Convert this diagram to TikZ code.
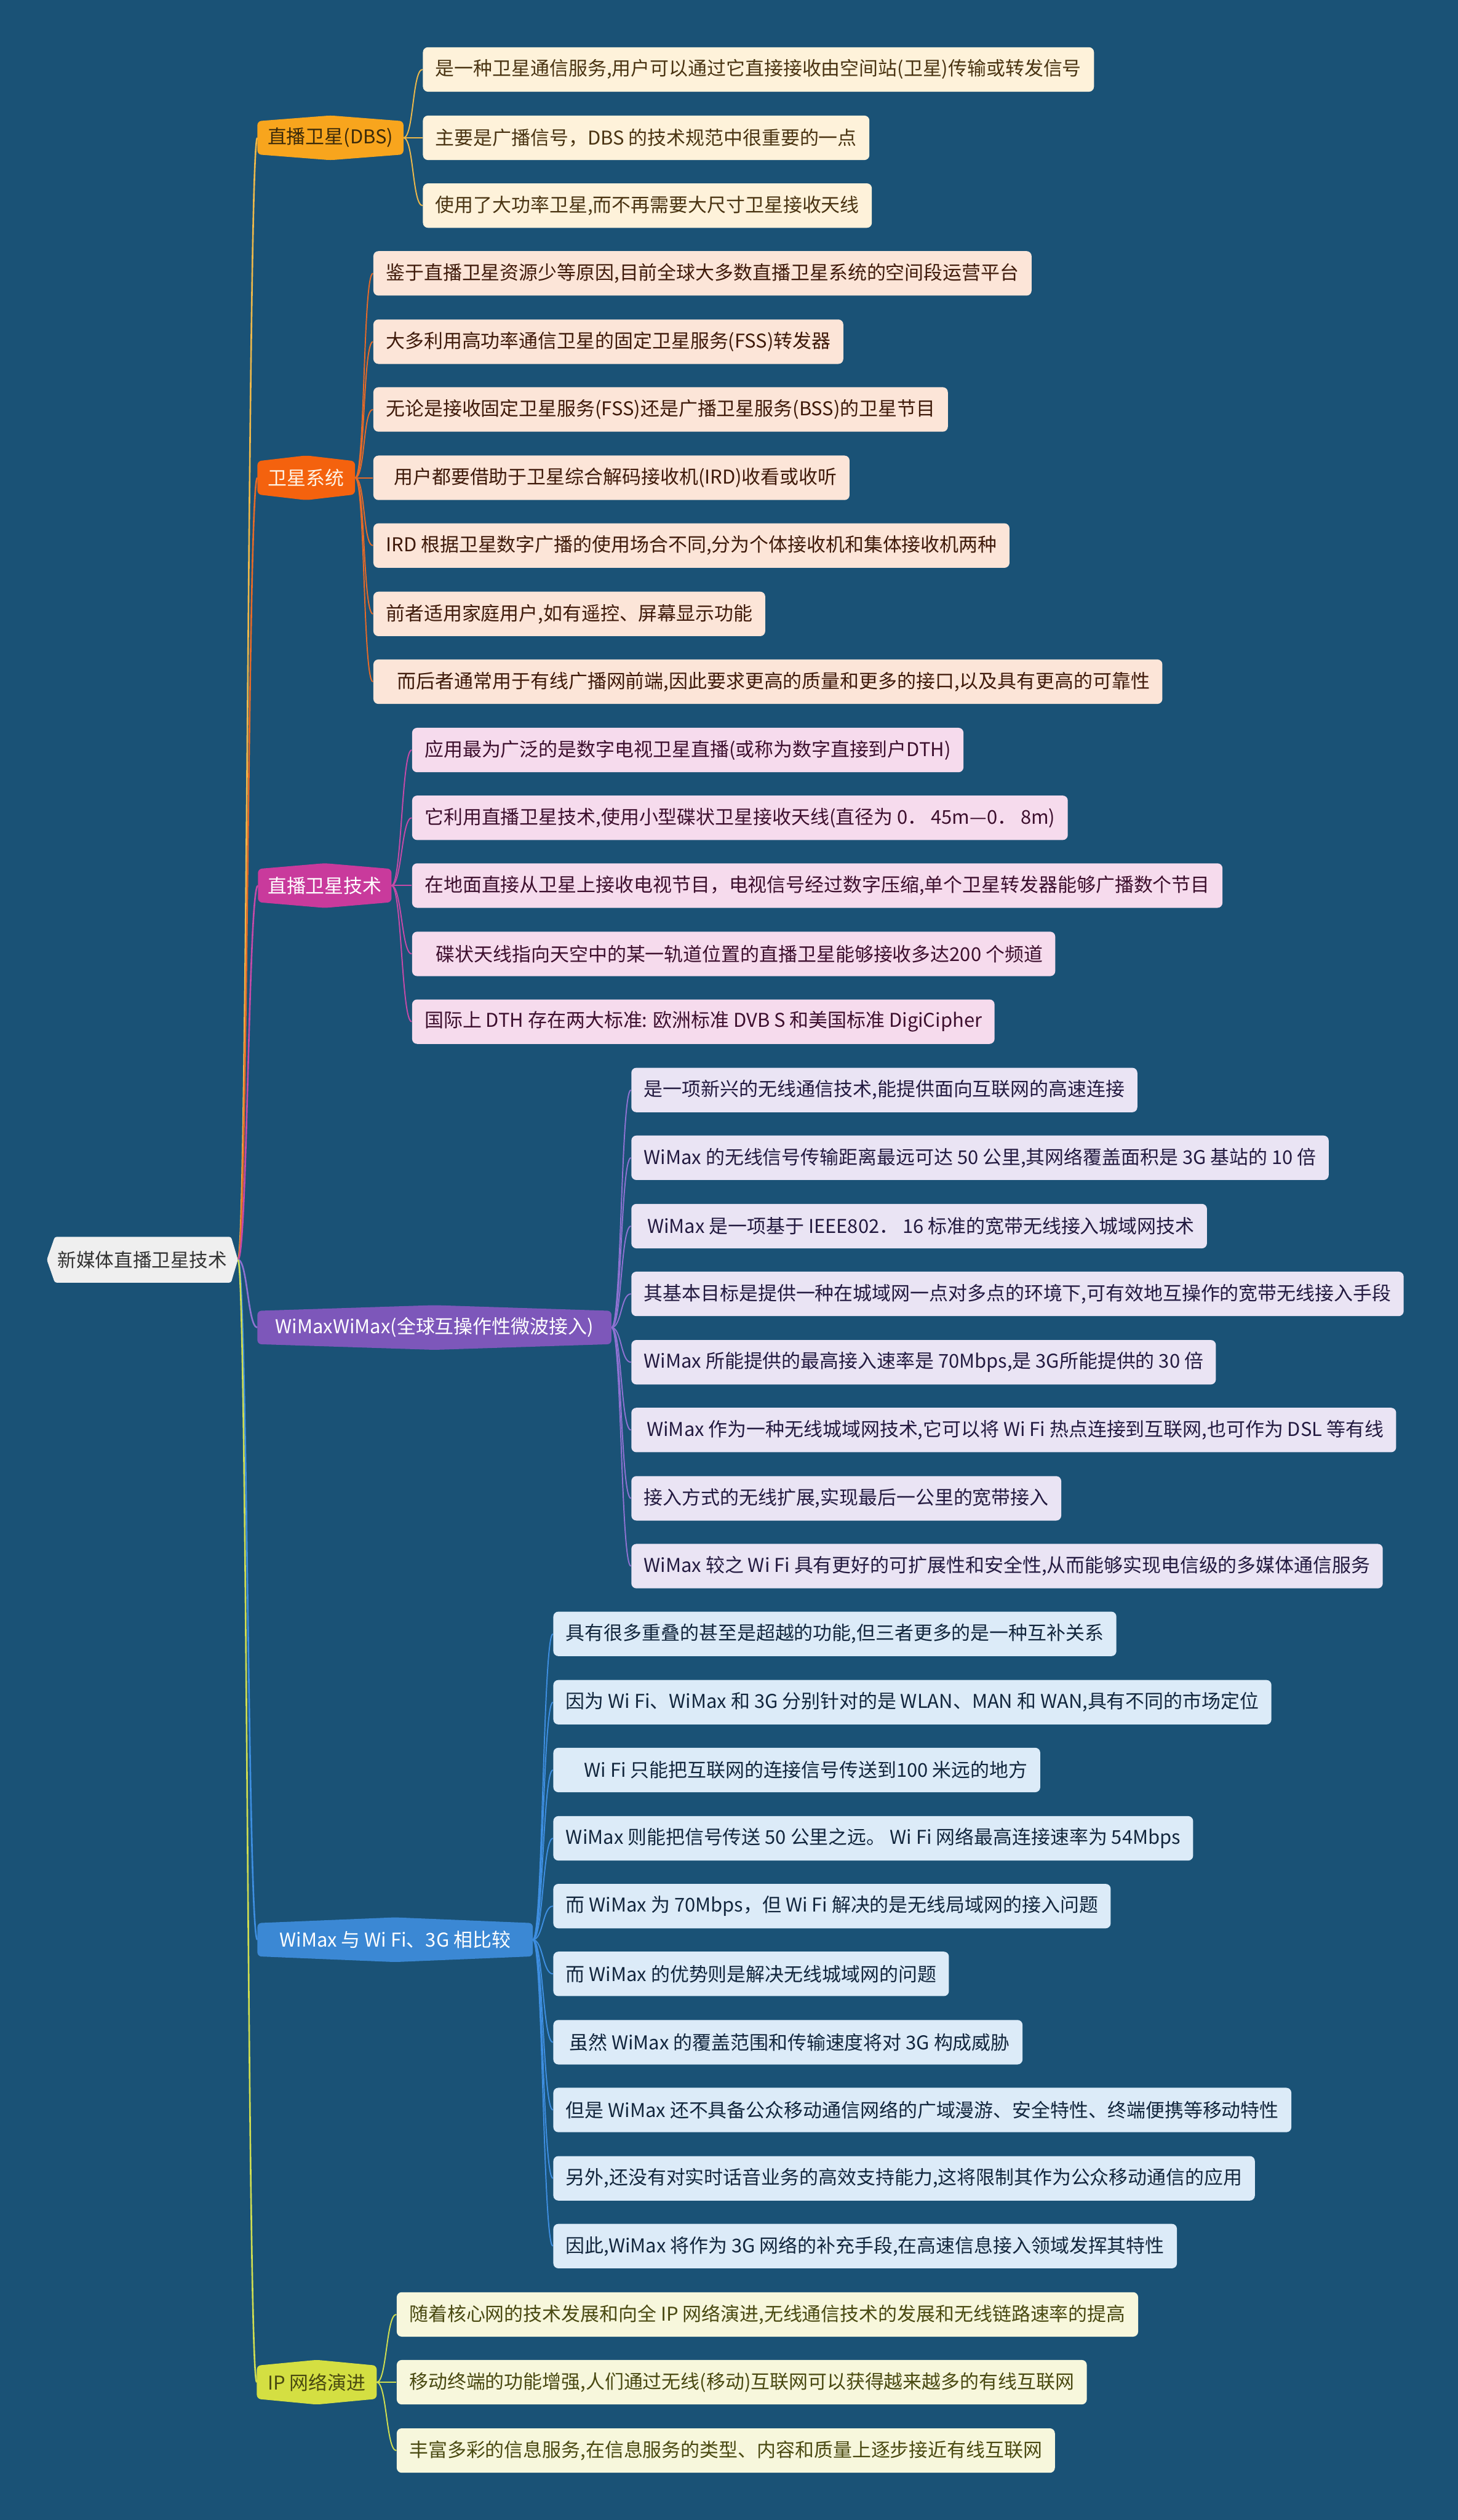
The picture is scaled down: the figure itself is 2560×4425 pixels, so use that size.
\documentclass[tikz,border=0pt]{standalone}
\usepackage{fontspec}
\setmainfont{Noto Sans CJK SC}
\usetikzlibrary{calc}
\pgfdeclarelayer{bgl}
\pgfdeclarelayer{lines}
\pgfdeclarelayer{shapes}
\pgfsetlayers{bgl,lines,shapes,main}

\definecolor{bg}{HTML}{1A5276}
\definecolor{rootfill}{HTML}{EFEFEF}
\definecolor{roottext}{HTML}{333333}
% main node fills / texts
\definecolor{mf1}{HTML}{F8A51D}\definecolor{mt1}{HTML}{3B2A0A}
\definecolor{mf2}{HTML}{F4620E}\definecolor{mt2}{HTML}{FFF5E8}
\definecolor{mf3}{HTML}{C93A9C}\definecolor{mt3}{HTML}{FFFFFF}
\definecolor{mf4}{HTML}{7D57BA}\definecolor{mt4}{HTML}{FFFFFF}
\definecolor{mf5}{HTML}{3B88D4}\definecolor{mt5}{HTML}{FFFFFF}
\definecolor{mf6}{HTML}{D4DF42}\definecolor{mt6}{HTML}{4A4A10}
% leaf fills / texts
\definecolor{lf1}{HTML}{FEF2DA}\definecolor{lt1}{HTML}{4A3412}
\definecolor{lf2}{HTML}{FCE5D8}\definecolor{lt2}{HTML}{3F1A0A}
\definecolor{lf3}{HTML}{F6DBED}\definecolor{lt3}{HTML}{3D0F2E}
\definecolor{lf4}{HTML}{EAE4F4}\definecolor{lt4}{HTML}{231A40}
\definecolor{lf5}{HTML}{DCEBF8}\definecolor{lt5}{HTML}{12263D}
\definecolor{lf6}{HTML}{F7F7DC}\definecolor{lt6}{HTML}{4A4A12}
% line colours
\definecolor{lc1}{HTML}{EDB84A}
\definecolor{lc2}{HTML}{E66A28}
\definecolor{lc3}{HTML}{C54AA8}
\definecolor{lc4}{HTML}{8E72D2}
\definecolor{lc5}{HTML}{3E8EE0}
\definecolor{lc6}{HTML}{D0DE50}

\newcommand\mainhex[2]{%
  \fill[#2,rounded corners=2pt] ($(#1.north west)+(0,10)$) -- (#1.north) -- ($(#1.north east)+(0,10)$)
    -- ($(#1.south east)+(0,-10)$) -- (#1.south) -- ($(#1.south west)+(0,-10)$) -- cycle;}

\begin{document}
\begin{tikzpicture}[x=0.01cm,y=-0.01cm,
  txt/.style={font=\fontsize{9.5pt}{11pt}\selectfont},
  leaf/.style={txt,anchor=west,rounded corners=2.5pt,minimum height=0.78cm,inner xsep=0.22cm,inner ysep=0pt},
  mainn/.style={txt,anchor=west,minimum height=0.77cm,inner xsep=0pt,inner ysep=0pt},
  rootconn/.style={line width=0.8pt},
  conn/.style={line width=0.6pt},
  leaf1/.style={leaf,fill=lf1,text=lt1},
  leaf2/.style={leaf,fill=lf2,text=lt2},
  leaf3/.style={leaf,fill=lf3,text=lt3},
  leaf4/.style={leaf,fill=lf4,text=lt4},
  leaf5/.style={leaf,fill=lf5,text=lt5},
  leaf6/.style={leaf,fill=lf6,text=lt6},
]
\begin{pgfonlayer}{bgl}
  \fill[bg] (0,0) rectangle (2560,4425);
\end{pgfonlayer}
\useasboundingbox (0,0) rectangle (2560,4425);

% root
\node[font=\fontsize{9.4pt}{11pt}\selectfont,text=roottext,minimum width=3.34cm,minimum height=0.79cm,inner sep=0pt] (r) at (250,2212) {新媒体直播卫星技术};

% main nodes
\node[mainn,text=mt1,minimum width=2.55cm] (m1) at (452,242) {直播卫星(DBS)};
\node[mainn,text=mt2,minimum width=1.70cm] (m2) at (452,839) {卫星系统};
\node[mainn,text=mt3,minimum width=2.33cm] (m3) at (453,1555) {直播卫星技术};
\node[mainn,text=mt4,minimum width=6.20cm] (m4) at (452,2331) {WiMaxWiMax(全球互操作性微波接入)};
\node[mainn,text=mt5,minimum width=4.82cm] (m5) at (452,3406) {WiMax 与 Wi Fi、3G 相比较};
\node[mainn,text=mt6,minimum width=2.09cm] (m6) at (451,4183) {IP 网络演进};

% DBS leaves
\node[leaf1] (d1) at (742,122) {是一种卫星通信服务,用户可以通过它直接接收由空间站(卫星)传输或转发信号};
\node[leaf1] (d2) at (742,242) {主要是广播信号，DBS 的技术规范中很重要的一点};
\node[leaf1] (d3) at (742,361) {使用了大功率卫星,而不再需要大尺寸卫星接收天线};

% satellite system leaves
\node[leaf2] (s1) at (655,480) {鉴于直播卫星资源少等原因,目前全球大多数直播卫星系统的空间段运营平台};
\node[leaf2] (s2) at (655,600) {大多利用高功率通信卫星的固定卫星服务(FSS)转发器};
\node[leaf2] (s3) at (655,719) {无论是接收固定卫星服务(FSS)还是广播卫星服务(BSS)的卫星节目};
\node[leaf2] (s4) at (655,839) {\hspace*{0.14cm}用户都要借助于卫星综合解码接收机(IRD)收看或收听};
\node[leaf2] (s5) at (655,958) {IRD 根据卫星数字广播的使用场合不同,分为个体接收机和集体接收机两种};
\node[leaf2] (s6) at (655,1078) {前者适用家庭用户,如有遥控、屏幕显示功能};
\node[leaf2] (s7) at (655,1197) {\hspace*{0.2cm}而后者通常用于有线广播网前端,因此要求更高的质量和更多的接口,以及具有更高的可靠性};

% DBS technique leaves
\node[leaf3] (t1) at (723,1317) {应用最为广泛的是数字电视卫星直播(或称为数字直接到户DTH)};
\node[leaf3] (t2) at (723,1436) {它利用直播卫星技术,使用小型碟状卫星接收天线(直径为 0． 45m—0． 8m)};
\node[leaf3] (t3) at (723,1555) {在地面直接从卫星上接收电视节目，电视信号经过数字压缩,单个卫星转发器能够广播数个节目};
\node[leaf3] (t4) at (723,1675) {\hspace*{0.2cm}碟状天线指向天空中的某一轨道位置的直播卫星能够接收多达200 个频道};
\node[leaf3] (t5) at (723,1794) {国际上 DTH 存在两大标准: 欧洲标准 DVB S 和美国标准 DigiCipher};

% WiMax leaves
\node[leaf4] (w1) at (1108,1914) {是一项新兴的无线通信技术,能提供面向互联网的高速连接};
\node[leaf4] (w2) at (1108,2033) {WiMax 的无线信号传输距离最远可达 50 公里,其网络覆盖面积是 3G 基站的 10 倍};
\node[leaf4] (w3) at (1108,2153) {\hspace*{0.06cm}WiMax 是一项基于 IEEE802． 16 标准的宽带无线接入城域网技术};
\node[leaf4] (w4) at (1108,2272) {其基本目标是提供一种在城域网一点对多点的环境下,可有效地互操作的宽带无线接入手段};
\node[leaf4] (w5) at (1108,2392) {WiMax 所能提供的最高接入速率是 70Mbps,是 3G所能提供的 30 倍};
\node[leaf4] (w6) at (1108,2511) {\hspace*{0.05cm}WiMax 作为一种无线城域网技术,它可以将 Wi Fi 热点连接到互联网,也可作为 DSL 等有线};
\node[leaf4] (w7) at (1108,2631) {接入方式的无线扩展,实现最后一公里的宽带接入};
\node[leaf4] (w8) at (1108,2750) {WiMax 较之 Wi Fi 具有更好的可扩展性和安全性,从而能够实现电信级的多媒体通信服务};

% comparison leaves
\node[leaf5] (v1) at (971,2869) {具有很多重叠的甚至是超越的功能,但三者更多的是一种互补关系};
\node[leaf5] (v2) at (971,2989) {因为 Wi Fi、WiMax 和 3G 分别针对的是 WLAN、MAN 和 WAN,具有不同的市场定位};
\node[leaf5] (v3) at (971,3108) {\hspace*{0.32cm}Wi Fi 只能把互联网的连接信号传送到100 米远的地方};
\node[leaf5] (v4) at (971,3228) {WiMax 则能把信号传送 50 公里之远。 Wi Fi 网络最高连接速率为 54Mbps};
\node[leaf5] (v5) at (971,3347) {而 WiMax 为 70Mbps，但 Wi Fi 解决的是无线局域网的接入问题};
\node[leaf5] (v6) at (971,3466) {而 WiMax 的优势则是解决无线城域网的问题};
\node[leaf5] (v7) at (971,3586) {\hspace*{0.06cm}虽然 WiMax 的覆盖范围和传输速度将对 3G 构成威胁};
\node[leaf5] (v8) at (971,3705) {但是 WiMax 还不具备公众移动通信网络的广域漫游、安全特性、终端便携等移动特性};
\node[leaf5] (v9) at (971,3825) {另外,还没有对实时话音业务的高效支持能力,这将限制其作为公众移动通信的应用};
\node[leaf5] (v10) at (971,3944) {因此,WiMax 将作为 3G 网络的补充手段,在高速信息接入领域发挥其特性};

% IP leaves
\node[leaf6] (p1) at (696,4064) {随着核心网的技术发展和向全 IP 网络演进,无线通信技术的发展和无线链路速率的提高};
\node[leaf6] (p2) at (696,4183) {移动终端的功能增强,人们通过无线(移动)互联网可以获得越来越多的有线互联网};
\node[leaf6] (p3) at (696,4303) {丰富多彩的信息服务,在信息服务的类型、内容和质量上逐步接近有线互联网};

% shapes of root and main nodes
\begin{pgfonlayer}{shapes}
  \fill[rootfill,rounded corners=1pt] (r.west) -- ($(r.north west)+(14,0)$) -- ($(r.north east)+(-12,0)$)
    -- (r.east) -- ($(r.south east)+(-12,0)$) -- ($(r.south west)+(14,0)$) -- cycle;
  \mainhex{m1}{mf1}
  \mainhex{m2}{mf2}
  \mainhex{m3}{mf3}
  \mainhex{m4}{mf4}
  \mainhex{m5}{mf5}
  \mainhex{m6}{mf6}
\end{pgfonlayer}

% connectors
\begin{pgfonlayer}{lines}
  \foreach \m/\c in {m1/lc1,m2/lc2,m3/lc3,m4/lc4,m5/lc5,m6/lc6}
    \draw[rootconn,\c] (r.east) .. controls +(17,0) and +(-17,0) .. (\m.west);
  \foreach \i in {1,...,3}
    \draw[conn,lc1] (m1.east) .. controls +(18,0) and +(-18,0) .. (d\i.west);
  \foreach \i in {1,...,7}
    \draw[conn,lc2] (m2.east) .. controls +(18,0) and +(-18,0) .. (s\i.west);
  \foreach \i in {1,...,5}
    \draw[conn,lc3] (m3.east) .. controls +(18,0) and +(-18,0) .. (t\i.west);
  \foreach \i in {1,...,8}
    \draw[conn,lc4] (m4.east) .. controls +(18,0) and +(-18,0) .. (w\i.west);
  \foreach \i in {1,...,10}
    \draw[conn,lc5] (m5.east) .. controls +(18,0) and +(-18,0) .. (v\i.west);
  \foreach \i in {1,...,3}
    \draw[conn,lc6] (m6.east) .. controls +(18,0) and +(-18,0) .. (p\i.west);
\end{pgfonlayer}
\end{tikzpicture}
\end{document}
